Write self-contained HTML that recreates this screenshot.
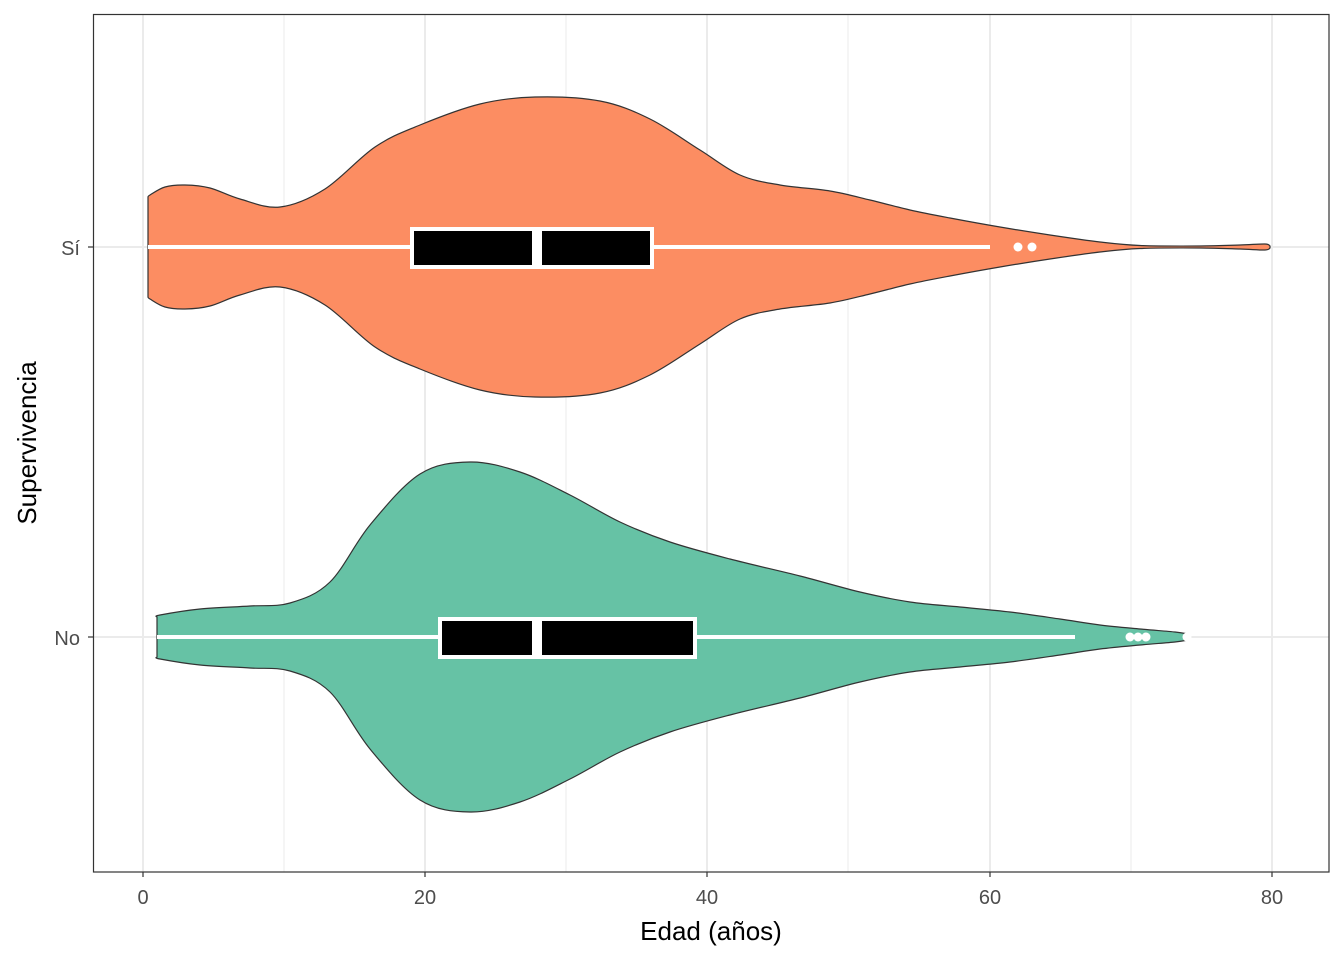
<!DOCTYPE html>
<html><head><meta charset="utf-8"><style>
html,body{margin:0;padding:0;background:#fff;}
svg{display:block;font-family:"Liberation Sans",sans-serif;}
</style></head><body>
<svg id="s" width="1344" height="960" viewBox="0 0 1344 960">
<rect width="1344" height="960" fill="#fff"/>
<g stroke="#ebebeb" stroke-width="1">
<line x1="284" y1="14" x2="284" y2="872"/><line x1="566" y1="14" x2="566" y2="872"/>
<line x1="848" y1="14" x2="848" y2="872"/><line x1="1131" y1="14" x2="1131" y2="872"/>
</g>
<g stroke="#ebebeb" stroke-width="2">
<line x1="143" y1="14" x2="143" y2="872"/><line x1="425" y1="14" x2="425" y2="872"/>
<line x1="707" y1="14" x2="707" y2="872"/><line x1="990" y1="14" x2="990" y2="872"/>
<line x1="1272" y1="14" x2="1272" y2="872"/>
<line x1="93" y1="247" x2="1329" y2="247"/><line x1="93" y1="637" x2="1329" y2="637"/>
</g>
<path id="v1" fill="#fc8d62" stroke="#333" stroke-width="1.2"/>
<path id="v2" fill="#66c2a5" stroke="#333" stroke-width="1.2"/>
<line x1="148" y1="247" x2="990" y2="247" stroke="#fff" stroke-width="4"/>
<rect x="412" y="229" width="240" height="38" fill="#000" stroke="#fff" stroke-width="4"/>
<line x1="537" y1="229" x2="537" y2="267" stroke="#fff" stroke-width="10"/>
<circle cx="1018" cy="247" r="4.5" fill="#fff"/><circle cx="1032" cy="247" r="4.5" fill="#fff"/>
<line x1="157" y1="637" x2="1075" y2="637" stroke="#fff" stroke-width="4"/>
<rect x="440" y="619" width="255" height="38" fill="#000" stroke="#fff" stroke-width="4"/>
<line x1="537" y1="619" x2="537" y2="657" stroke="#fff" stroke-width="10"/>
<circle cx="1130" cy="637" r="4.5" fill="#fff"/><circle cx="1138" cy="637" r="4.5" fill="#fff"/><circle cx="1146" cy="637" r="4.5" fill="#fff"/><circle cx="1187" cy="637" r="4.5" fill="#fff"/>
<rect x="93.5" y="14.5" width="1235.5" height="857.5" fill="none" stroke="#333" stroke-width="1.2"/>
<g stroke="#333" stroke-width="1.2">
<line x1="88" y1="247" x2="93" y2="247"/><line x1="88" y1="637" x2="93" y2="637"/>
<line x1="143" y1="872" x2="143" y2="877"/><line x1="425" y1="872" x2="425" y2="877"/>
<line x1="707" y1="872" x2="707" y2="877"/><line x1="990" y1="872" x2="990" y2="877"/>
<line x1="1272" y1="872" x2="1272" y2="877"/>
</g>
<g fill="#4d4d4d" font-size="20" text-anchor="middle">
<text x="143" y="904">0</text><text x="425" y="904">20</text><text x="707" y="904">40</text>
<text x="990" y="904">60</text><text x="1272" y="904">80</text>
<text x="80" y="255" text-anchor="end">Sí</text><text x="80" y="645" text-anchor="end">No</text>
</g>
<text x="711" y="940" font-size="26" text-anchor="middle" fill="#000">Edad (años)</text>
<text transform="translate(36,443) rotate(-90)" font-size="26" text-anchor="middle" fill="#000">Supervivencia</text>
</svg>
<script>
function cr(pts){var d="M"+pts[0][0]+","+pts[0][1];
for(var i=0;i<pts.length-1;i++){var p0=pts[Math.max(i-1,0)],p1=pts[i],p2=pts[i+1],p3=pts[Math.min(i+2,pts.length-1)];
d+=" C"+(p1[0]+(p2[0]-p0[0])/6)+","+(p1[1]+(p2[1]-p0[1])/6)+" "+(p2[0]-(p3[0]-p1[0])/6)+","+(p2[1]-(p3[1]-p1[1])/6)+" "+p2[0]+","+p2[1];}
return d;}
function violin(cy,h){var top=h.map(function(a){return [a[0],cy-a[1]];});
var bot=h.slice().reverse().map(function(a){return [a[0],cy+a[1]];});
var d=cr(top);var b=cr(bot);return d+" L"+b.slice(1)+" Z";}
var s1=[[148,50],[150,52],[165,60],[185,62],[210,59],[240,48],[280,40],[325,58],[375,100],[420,122],[480,143],[535,150],[600,146],[650,128],[700,97],[740,72],[780,62],[830,56],[870,47],[910,37],[950,29],[1000,20],[1050,12],[1100,5],[1140,1.5],[1200,1],[1240,2],[1265,3],[1270,1]];
var s2=[[157,20],[160,22],[200,28],[250,31],[290,34],[330,55],[370,112],[420,163],[470,175],[520,165],[570,142],[620,115],[670,95],[730,78],[800,61],[860,45],[910,35],[960,30],[1010,25],[1060,18],[1100,12],[1140,8],[1175,5],[1188,3]];
document.getElementById("v1").setAttribute("d",violin(247,s1));
document.getElementById("v2").setAttribute("d",violin(637,s2));
</script>
</body></html>
